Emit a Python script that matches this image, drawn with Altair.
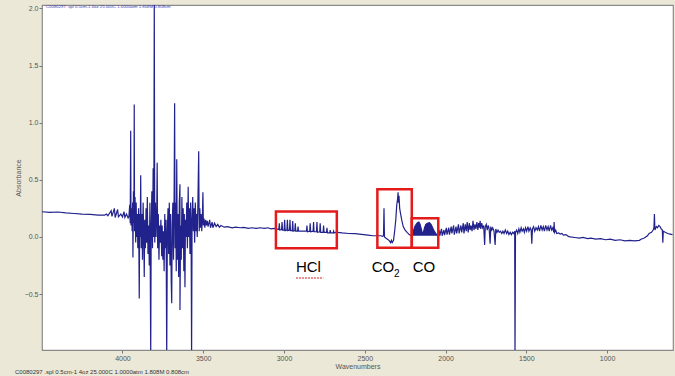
import altair as alt
import pandas as pd

# ---- spectrum values (wavenumber cm-1, absorbance) ----
wn_a = [4498, 4450, 4400, 4350, 4300, 4250, 4200, 4150, 4110, 4100, 4090, 4070, 4065, 4050, 4045,
        4030, 4025, 4010, 4000, 3990, 3985, 3975, 3965]
ab_a = [0.22, 0.215, 0.218, 0.21, 0.205, 0.2, 0.198, 0.19, 0.19, 0.2, 0.185, 0.23, 0.18, 0.25, 0.17,
        0.24, 0.175, 0.2, 0.175, 0.22, 0.17, 0.2, 0.165]

wn_b = [3960, 3955, 3952, 3949, 3947, 3944, 3940, 3937, 3935, 3932, 3929, 3927, 3925, 3922, 3918,
        3915, 3912, 3908, 3905, 3900, 3896, 3893, 3890, 3887, 3884, 3880, 3876, 3872, 3868, 3865,
        3862, 3858, 3854, 3850, 3846, 3842, 3838, 3834, 3830, 3825, 3822, 3818, 3814, 3810, 3806,
        3803, 3800, 3796, 3792, 3788, 3785, 3782, 3778, 3774, 3770, 3766, 3762, 3757, 3754, 3750,
        3746, 3742, 3738, 3734, 3730, 3726, 3722, 3718, 3714, 3710, 3706, 3702, 3698, 3695, 3692,
        3688, 3684, 3680, 3677, 3674, 3670, 3667, 3664, 3660, 3656, 3652, 3648, 3644, 3644, 3640,
        3636, 3632, 3628, 3624, 3620, 3617, 3613, 3610, 3606, 3602, 3598, 3593, 3590, 3586, 3582,
        3578, 3575, 3572, 3569, 3565, 3561, 3557, 3553, 3549, 3545, 3541, 3537, 3533, 3528, 3525,
        3521, 3517, 3513, 3509, 3505, 3502, 3499, 3495, 3490, 3485, 3480]
ab_b = [0.18, 0.28, 0.12, 0.93, 0.10, 0.25, 0.05, 0.30, -0.18, 0.40, 0.12, 1.16, 0.05, 0.35, -0.05,
        0.30, 0.0, 0.20, -0.10, 0.25, -0.54, 0.20, 0.0, 0.54, -0.10, 0.20, -0.20, 0.30, 0.0, -0.35,
        0.15, -0.10, 0.25, -0.05, 0.35, -0.15, 0.10, -0.25, 0.30, -1.05, 0.10, 0.40, -0.10, 0.60, 0.0,
        2.10, -0.05, 0.30, 0.0, 0.20, 0.65, -0.10, 0.20, -0.20, 0.10, -0.05, 0.15, -0.17, 0.10, -0.20,
        0.05, -0.30, 0.20, -0.10, 0.15, -1.05, 0.05, 0.25, -0.15, 0.30, -0.25, 0.20, -0.40, -0.58, 0.10,
        0.30, -0.20, 0.40, 1.17, -0.10, 0.30, -0.30, 0.68, -0.20, 0.20, -0.35, 0.30, 0.46, -0.64, 0.10,
        -0.20, 0.35, -0.10, 0.25, -0.30, 0.20, -0.44, 0.15, 0.0, 0.30, -0.10, 0.44, 0.0, 0.25, -0.15,
        0.30, 0.05, -1.05, 0.15, 0.35, 0.05, 0.25, -0.05, 0.30, 0.05, 0.20, 0.0, 0.30, 0.75, 0.05,
        0.25, 0.08, 0.20, 0.05, 0.18, 0.39, 0.10, 0.16, 0.08, 0.15, 0.10]

wn_c = [3475, 3470, 3460, 3455, 3445, 3440, 3430, 3420, 3410, 3400, 3390, 3370, 3350, 3320, 3300,
        3270, 3250, 3220, 3200, 3170, 3150, 3120, 3100, 3080, 3060]
ab_c = [0.14, 0.09, 0.15, 0.08, 0.13, 0.08, 0.12, 0.09, 0.11, 0.085, 0.10, 0.085, 0.09, 0.08, 0.085,
        0.08, 0.083, 0.075, 0.08, 0.075, 0.08, 0.075, 0.08, 0.07, 0.075]

# HCl rotational lines (R and P branches)
wn_d = [3032, 3029, 3026, 3015, 3012, 3009, 2999, 2996, 2993, 2982, 2979, 2976, 2966, 2963, 2960,
        2949, 2946, 2943, 2933, 2930, 2927, 2916, 2913, 2910, 2880,
        2861, 2858, 2855, 2841, 2838, 2835, 2820, 2817, 2814, 2799, 2796, 2793, 2779, 2776, 2773,
        2758, 2755, 2752, 2737, 2734, 2731, 2717, 2714, 2711, 2696, 2693, 2690, 2680]
ab_d = [0.065, 0.12, 0.06, 0.065, 0.13, 0.06, 0.06, 0.15, 0.055, 0.06, 0.15, 0.055, 0.06, 0.15, 0.055,
        0.055, 0.14, 0.05, 0.055, 0.12, 0.05, 0.05, 0.09, 0.05, 0.05,
        0.05, 0.10, 0.045, 0.05, 0.12, 0.045, 0.05, 0.13, 0.045, 0.045, 0.13, 0.04, 0.045, 0.12, 0.04,
        0.04, 0.10, 0.04, 0.04, 0.08, 0.035, 0.035, 0.06, 0.035, 0.035, 0.05, 0.035, 0.04]

wn_e = [2670, 2640, 2600, 2560, 2520, 2480, 2450, 2430, 2400, 2390]
ab_e = [0.04, 0.035, 0.03, 0.028, 0.022, 0.015, 0.01, 0.01, 0.01, 0.005]

# CO2 asymmetric stretch
wn_f = [2384, 2381, 2378, 2370, 2360, 2350, 2340, 2335, 2330, 2322, 2315, 2308, 2302, 2297, 2294,
        2291, 2288, 2284, 2278, 2270, 2262, 2250, 2238, 2225, 2212]
ab_f = [0.01, 0.25, 0.0, -0.01, -0.02, -0.03, -0.05, -0.03, -0.05, -0.03, 0.05, 0.15, 0.28, 0.33, 0.39,
        0.30, 0.36, 0.25, 0.20, 0.14, 0.09, 0.06, 0.04, 0.02, 0.01]

# CO band envelope (dense lines drawn as a filled envelope)
wn_g = [2210, 2200, 2190, 2180, 2172, 2165, 2158, 2150, 2143, 2137, 2130, 2122, 2112, 2100, 2090,
        2080, 2070, 2060, 2050]
ab_g = [0.01, 0.05, 0.09, 0.115, 0.125, 0.13, 0.11, 0.07, 0.03, 0.04, 0.08, 0.11, 0.12, 0.125, 0.11,
        0.08, 0.05, 0.03, 0.01]

# water bending region
wn_h = [2045, 2040, 2036, 2025, 2021, 2010, 2006, 1995, 1991, 1980, 1976, 1965, 1961, 1950, 1946,
        1935, 1931, 1920, 1916, 1905, 1900, 1890, 1886, 1878, 1872, 1866, 1860, 1853, 1848, 1842,
        1836, 1830, 1824, 1818, 1812, 1806, 1800, 1795, 1790, 1786, 1782, 1776, 1770, 1764, 1758,
        1754, 1748, 1742, 1736, 1730, 1724, 1720, 1714, 1708, 1700, 1693, 1689, 1682, 1675, 1668,
        1660, 1652, 1645, 1638, 1630, 1622, 1615, 1608, 1600, 1592, 1585, 1578, 1572, 1570, 1567,
        1560, 1553, 1546, 1540, 1532, 1526, 1518, 1512, 1505, 1498, 1490, 1484, 1476, 1470, 1466,
        1462, 1455, 1448, 1440, 1432, 1425, 1418, 1410, 1402, 1395, 1388, 1380, 1372, 1365, 1358,
        1350, 1343, 1336, 1330, 1328, 1325, 1318, 1312]
ab_h = [0.01, 0.06, 0.01, 0.07, 0.01, 0.06, 0.015, 0.08, 0.02, 0.08, 0.02, 0.09, 0.03, 0.10, 0.02,
        0.09, 0.03, 0.11, 0.03, 0.10, 0.04, 0.12, 0.03, 0.11, 0.05, 0.13, 0.04, 0.12, 0.06, 0.10,
        0.05, 0.14, 0.06, 0.11, 0.07, 0.13, 0.06, 0.12, 0.08, 0.14, 0.07, 0.12, 0.08, 0.10, -0.07,
        0.09, 0.11, 0.06, 0.10, 0.07, -0.06, 0.09, 0.06, 0.08, 0.05, -0.07, 0.07, 0.04, 0.06, 0.04,
        0.05, 0.03, 0.05, 0.03, 0.06, 0.03, 0.05, 0.02, 0.04, 0.02, 0.04, 0.03, 0.05, -1.05, 0.04,
        0.06, 0.03, 0.07, 0.04, 0.08, 0.05, 0.07, 0.04, 0.08, 0.05, 0.09, 0.05, 0.08, 0.06, -0.06,
        0.07, 0.09, 0.05, 0.08, 0.06, 0.09, 0.05, 0.10, 0.06, 0.09, 0.05, 0.10, 0.06, 0.09, 0.05,
        0.10, 0.06, 0.08, 0.04, 0.13, 0.04, 0.06, 0.03]

wn_i = [1300, 1290, 1280, 1270, 1255, 1240, 1229, 1200, 1170, 1150, 1120, 1100, 1070, 1040, 1010,
        980, 950, 920, 890, 860, 830, 800]
ab_i = [0.035, 0.025, 0.03, 0.015, 0.02, 0.005, 0.0, -0.005, -0.01, -0.005, -0.015, -0.01, -0.02,
        -0.015, -0.025, -0.02, -0.03, -0.025, -0.035, -0.03, -0.035, -0.03]

wn_j = [790, 770, 750, 740, 725, 715, 710, 707, 704, 695, 688, 680, 672, 665, 658, 655, 652, 640,
        625, 610, 595]
ab_j = [-0.02, -0.01, 0.01, 0.03, 0.04, 0.06, 0.08, 0.20, 0.06, 0.09, 0.08, 0.10, 0.09, 0.07, 0.06,
        -0.05, 0.05, 0.04, 0.03, 0.025, 0.02]

# ---- annotation boxes and labels ----
box_x1 = [3050, 2422, 2209]
box_x2 = [2673, 2209, 2045]
box_y1 = [0.222, 0.418, 0.164]
box_y2 = [-0.099, -0.094, -0.094]

lab_text = ["HCl", "CO", "2", "CO"]
lab_x = [2926, 2457, 2319, 2203]
lab_y = [-0.307, -0.307, -0.352, -0.307]
lab_size = [15, 15, 10, 15]

x_ticks = [4000, 3500, 3000, 2500, 2000, 1500, 1000]
y_ticks = [-0.5, 0.0, 0.5, 1.0, 1.5, 2.0]

info_text = "C0080297 .spl 0.5cm-1 4oz 25.000C 1.0000atm 1.808M 0.808cm"

# ---- build tables ----
wn, ab = [], []
for w, a in [(wn_a, ab_a), (wn_b, ab_b), (wn_c, ab_c), (wn_d, ab_d), (wn_e, ab_e),
             (wn_f, ab_f), (wn_g, ab_g), (wn_h, ab_h), (wn_i, ab_i), (wn_j, ab_j)]:
    wn += w
    ab += a
spec = pd.DataFrame({"wn": wn, "ab": ab, "i": list(range(len(wn)))})
co = pd.DataFrame({"wn": wn_g, "ab": ab_g, "base": [0.01] * len(wn_g)})
boxes = pd.DataFrame({"x1": box_x1, "x2": box_x2, "y1": box_y1, "y2": box_y2})
labels = pd.DataFrame({"t": lab_text, "x": lab_x, "y": lab_y, "s": lab_size})
underline = pd.DataFrame({"x1": [2926], "x2": [2757], "y": [-0.36]})

LINE = "#22228c"
xs = alt.Scale(domain=[592, 4498], reverse=True, nice=False, zero=False)
ys = alt.Scale(domain=[-0.99, 2.03], nice=False, zero=False)

xax = alt.Axis(values=x_ticks, format="d", title="Wavenumbers", grid=False, domain=False,
               tickSize=3, tickColor="#777", labelFontSize=7, labelColor="#555",
               labelPadding=1, titleFontSize=7, titleColor="#555", titleFontWeight="normal",
               titlePadding=1, labelFont="Liberation Sans", titleFont="Liberation Sans")
yax = alt.Axis(values=y_ticks, format=".1f", title="Absorbance", grid=False, domain=False,
               tickSize=3, tickColor="#777", labelFontSize=7, labelColor="#555",
               labelPadding=1, titleFontSize=7, titleColor="#555", titleFontWeight="normal",
               titlePadding=3, labelFont="Liberation Sans", titleFont="Liberation Sans")

line = alt.Chart(spec).mark_line(color=LINE, strokeWidth=1.2, clip=True).encode(
    x=alt.X("wn:Q", scale=xs, axis=xax),
    y=alt.Y("ab:Q", scale=ys, axis=yax),
    order="i:Q",
)

area = alt.Chart(co).mark_area(color=LINE, clip=True).encode(
    x=alt.X("wn:Q", scale=xs), y=alt.Y("ab:Q", scale=ys), y2="base:Q"
)

rects = alt.Chart(boxes).mark_rect(filled=False, stroke="#e31b1b", strokeWidth=2.5).encode(
    x=alt.X("x1:Q", scale=xs), x2="x2:Q", y=alt.Y("y1:Q", scale=ys), y2="y2:Q"
)

texts = alt.Chart(labels).mark_text(align="left", baseline="alphabetic", font="Liberation Sans",
                                   color="black").encode(
    x=alt.X("x:Q", scale=xs), y=alt.Y("y:Q", scale=ys), text="t:N",
    size=alt.Size("s:Q", scale=None, legend=None)
)

ul = alt.Chart(underline).mark_rule(color="#d02020", strokeWidth=1, strokeDash=[2, 1]).encode(
    x=alt.X("x1:Q", scale=xs), x2="x2:Q", y=alt.Y("y:Q", scale=ys)
)

top_txt = alt.Chart(pd.DataFrame({"t": [info_text]})).mark_text(
    align="left", baseline="middle", fontSize=4.3, color="#3a3ab8", font="Liberation Sans"
).encode(x=alt.value(4), y=alt.value(2), text="t:N")

bot_txt = alt.Chart(pd.DataFrame({"t": [info_text]})).mark_text(
    align="left", baseline="middle", fontSize=6, color="#333", font="Liberation Sans"
).encode(x=alt.value(-27), y=alt.value(367), text="t:N")

chart = alt.layer(area, line, rects, ul, texts, top_txt, bot_txt).properties(
    width=631, height=345,
    autosize=alt.AutoSizeParams(type="none"),
    padding={"left": 42, "top": 5, "right": 2, "bottom": 26},
    background="#ebe8d8",
).configure_view(fill="white", stroke="#8a8a8a", strokeWidth=1.2)

chart.save("out.html", embed_options={"renderer": "svg", "actions": False})
